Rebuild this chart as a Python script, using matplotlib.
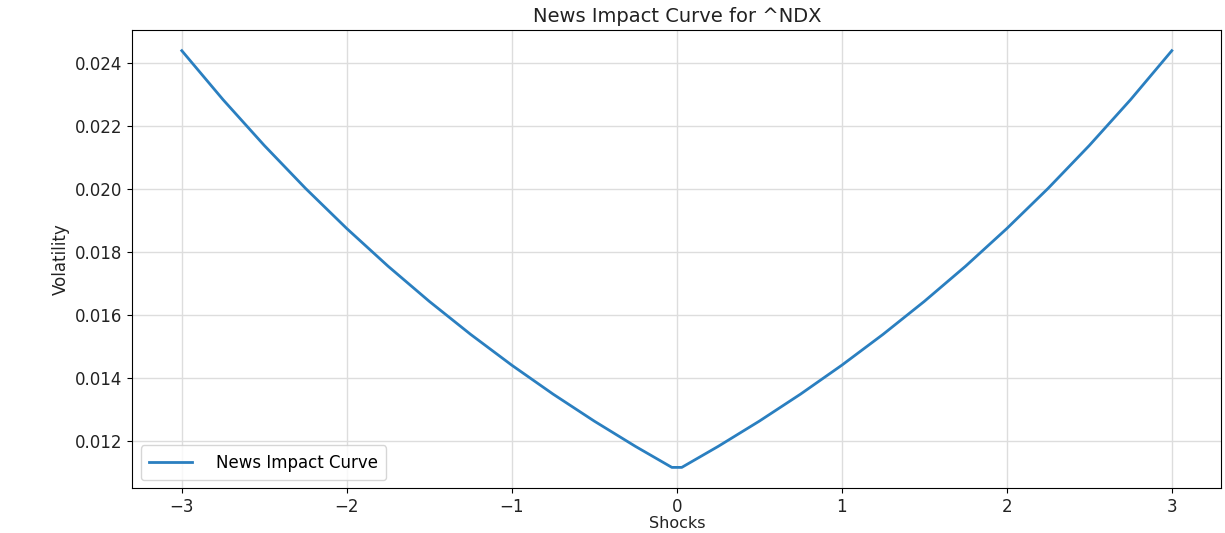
import matplotlib
matplotlib.use('Agg')
import matplotlib.pyplot as plt

# shocks and the volatility
shocks = [-3.0, -2.75, -2.5, -2.25, -2.0, -1.75, -1.5, -1.25, -1.0, -0.75, -0.5, -0.25, -0.03,
          0.03, 0.25, 0.5, 0.75, 1.0, 1.25, 1.5, 1.75, 2.0, 2.25, 2.5, 2.75, 3.0]
volatility = [0.024403, 0.022845, 0.021388, 0.020023, 0.018746, 0.017549, 0.016430, 0.015382,
              0.014400, 0.013481, 0.012621, 0.011816, 0.011150,
              0.011150, 0.011816, 0.012621, 0.013481, 0.014400, 0.015382, 0.016430, 0.017549,
              0.018746, 0.020023, 0.021388, 0.022845, 0.024403]
ticker = '^NDX'

fig, ax = plt.subplots(figsize=(12.25, 5.33), dpi=100)
fig.subplots_adjust(left=0.108, right=0.997, top=0.944, bottom=0.084)

ax.plot(shocks, volatility, color='#2a7fc0', linewidth=2, label='News Impact Curve')

ax.set_title(f'News Impact Curve for {ticker}', fontsize=14, pad=6, color='#222222')
ax.set_xlabel('Shocks', fontsize=11.5, labelpad=0, color='#222222')
ax.set_ylabel('Volatility', fontsize=12, color='#222222')
ax.tick_params(labelsize=12, labelcolor='#222222')
ax.grid(True, color='#dddddd', linewidth=1)
ax.legend(loc='lower left', fontsize=12, handlelength=2.6, handletextpad=1.4,
          borderpad=0.5)

plt.savefig('out.png', dpi=100)
